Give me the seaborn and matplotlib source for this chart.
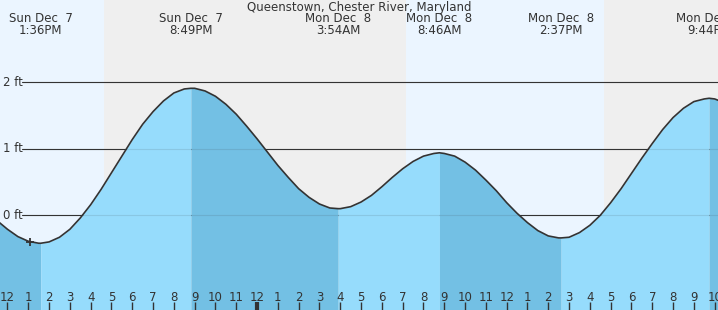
import numpy as np
import pandas as pd
import matplotlib
matplotlib.use("Agg")
import matplotlib.pyplot as plt
import matplotlib.transforms as mtransforms
import seaborn as sns

# ---------------- data ----------------
title = "Queenstown, Chester River, Maryland"

# hours since Sun Dec 7 00:00, read every half hour off the curve
curve_hours = list(np.arange(11.5, 46.51, 0.5))
curve_ft = [-0.08, -0.21, -0.32, -0.39, -0.42, -0.40, -0.33, -0.21, -0.04, 0.16,
            0.39, 0.64, 0.89, 1.14, 1.37, 1.56, 1.72, 1.84, 1.90, 1.91,
            1.87, 1.79, 1.67, 1.52, 1.34, 1.15, 0.95, 0.75, 0.57, 0.40,
            0.27, 0.17, 0.11, 0.10, 0.13, 0.20, 0.30, 0.43, 0.57, 0.70,
            0.81, 0.89, 0.93, 0.93, 0.89, 0.80, 0.68, 0.53, 0.37, 0.19,
            0.03, -0.11, -0.23, -0.31, -0.34, -0.33, -0.26, -0.15, 0.00, 0.19,
            0.40, 0.63, 0.86, 1.08, 1.29, 1.47, 1.61, 1.71, 1.75, 1.75, 1.69]

# high / low events
event_hours = [13.6, 20.817, 27.9, 32.767, 38.617, 45.733]
event_ft = [-0.42, 1.91, 0.10, 0.94, -0.34, 1.76]
event_kind = ["low", "high", "low", "high", "low", "high"]
event_day = ["Sun Dec  7", "Sun Dec  7", "Mon Dec  8", "Mon Dec  8", "Mon Dec  8", "Mon Dec  8"]
event_clock = ["1:36PM", "8:49PM", "3:54AM", "8:46AM", "2:37PM", "9:44PM"]

# daylight periods (hours since Dec 7 00:00)
day_start = [11.0, 31.16]
day_end = [16.64, 40.68]

# current time marker
now_hour = [13.09]
now_ft = [-0.40]

# axis
ft_levels = [0, 1, 2]
ft_labels = ["0 ft", "1 ft", "2 ft"]
hour_ticks = list(range(12, 47))
midnight_hours = [24]

# ---------------- style ----------------
W, H, DPI = 718, 310, 100
XMIN, XMAX = 11.64, 46.16
YMIN, YMAX = -1.424, 3.238
DAY_BG = "#ebf5ff"
NIGHT_BG = "#efefef"
RISE_FILL = "#96dcfc"
FALL_FILL = "#73c0e4"
INK = "#333333"
FS = 8.5

sns.set_style("white")
plt.rcParams["font.family"] = ["DejaVu Sans"]

fig = plt.figure(figsize=(W / DPI, H / DPI), dpi=DPI)
ax = fig.add_axes([0, 0, 1, 1])
ax.set_xlim(XMIN, XMAX)
ax.set_ylim(YMIN, YMAX)
ax.set_facecolor(NIGHT_BG)
for s in ax.spines.values():
    s.set_visible(False)

# day/night background
for a, b in zip(day_start, day_end):
    ax.axvspan(a, b, color=DAY_BG, zorder=0, lw=0)

# gridlines under fill
gx0 = 22 / W
for lv in ft_levels:
    ax.axhline(lv, xmin=gx0, xmax=1, color=INK, lw=0.8, zorder=1)

# combine curve readings with event points
df = pd.concat([
    pd.DataFrame({"hour": curve_hours, "ft": curve_ft}),
    pd.DataFrame({"hour": event_hours, "ft": event_ft}),
]).sort_values("hour").drop_duplicates("hour").reset_index(drop=True)

t = df["hour"].to_numpy()
y = df["ft"].to_numpy()
bounds = [t.min()] + event_hours + [t.max()]
for i in range(len(bounds) - 1):
    a, b = bounds[i], bounds[i + 1]
    mask = (t >= a) & (t <= b)
    nxt = event_kind[i] if i < len(event_kind) else ("low" if event_kind[-1] == "high" else "high")
    color = FALL_FILL if nxt == "low" else RISE_FILL
    ax.fill_between(t[mask], y[mask], YMIN - 1, color=color, lw=0, zorder=2)

# faint gridlines over fill
for lv in ft_levels:
    ax.axhline(lv, xmin=gx0, xmax=1, color=INK, lw=0.8, alpha=0.12, zorder=3)

sns.lineplot(data=df, x="hour", y="ft", ax=ax, color=INK, lw=1.2, zorder=4,
             sort=True, estimator=None, solid_joinstyle="round")
ax.set_xlabel("")
ax.set_ylabel("")

# current time marker
ax.plot(now_hour, now_ft, marker="+", ms=6, mew=1.3, color=INK, ls="none", zorder=5)

# y labels inside
ytrans = mtransforms.blended_transform_factory(ax.transAxes, ax.transData)
for lv, lab in zip(ft_levels, ft_labels):
    ax.text(3 / W, lv, lab, transform=ytrans, ha="left", va="center",
            fontsize=FS, color=INK, zorder=6)

# x ticks inside
ax.set_yticks([])
ax.set_xticks(hour_ticks)
ax.set_xticklabels([str((h - 1) % 12 + 1) for h in hour_ticks])
ax.tick_params(axis="x", direction="in", length=6, width=1, color=INK,
               labelcolor=INK, labelsize=FS, pad=-14, bottom=True)
for tick, h in zip(ax.xaxis.get_major_ticks(), hour_ticks):
    tick.tick1line.set_zorder(7)
    tick.label1.set_zorder(7)
    if h in midnight_hours:
        tick.tick1line.set_markeredgewidth(3)
ax.set_axisbelow(False)

# event labels at top
xtrans = mtransforms.blended_transform_factory(ax.transData, ax.transAxes)
for hr, d, c in zip(event_hours, event_day, event_clock):
    ax.text(hr, 1 - 19 / H, d, transform=xtrans, ha="center", va="center",
            fontsize=FS, color=INK, zorder=6)
    ax.text(hr, 1 - 31 / H, c, transform=xtrans, ha="center", va="center",
            fontsize=FS, color=INK, zorder=6)

ax.text(0.5, 1 - 7 / H, title, transform=ax.transAxes, ha="center", va="center",
        fontsize=FS, color=INK, zorder=6)

fig.savefig("out.png", dpi=DPI)
